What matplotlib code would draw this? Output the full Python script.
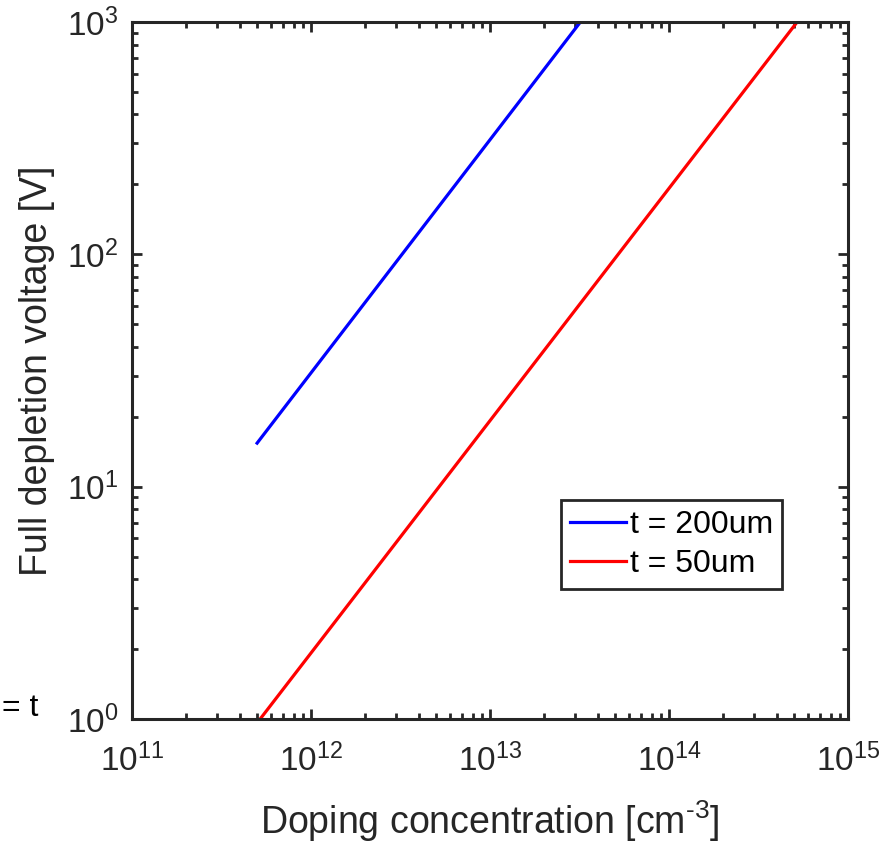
import matplotlib
matplotlib.use("Agg")
import matplotlib.pyplot as plt
from matplotlib.ticker import LogLocator, NullFormatter

plt.rcParams["font.family"] = ["Liberation Sans", "DejaVu Sans"]
plt.rcParams["mathtext.fontset"] = "custom"
plt.rcParams["mathtext.rm"] = "Liberation Sans"
plt.rcParams["mathtext.it"] = "Liberation Sans:italic"

# doping concentration [cm^-3] and full depletion voltage [V]
doping_200um = [5.0e11, 3.2e13]
voltage_200um = [15.4, 1000]
doping_50um = [5.2e11, 5.2e14]
voltage_50um = [1.0, 1000]
labels = ["t = 200um", "t = 50um"]

dark = "#262626"

fig = plt.figure(figsize=(8.93, 8.49), dpi=100)
ax = fig.add_axes([0.1478, 0.1531, 0.8018, 0.8210])

ax.plot(doping_200um, voltage_200um, color="#0000ff", lw=2.3, label=labels[0])
ax.plot(doping_50um, voltage_50um, color="#ff0000", lw=2.3, label=labels[1])

ax.set_xscale("log")
ax.set_yscale("log")
ax.set_xlim(1e11, 1e15)
ax.set_ylim(1e0, 1e3)

ax.xaxis.set_major_locator(LogLocator(base=10, numticks=10))
ax.yaxis.set_major_locator(LogLocator(base=10, numticks=10))
ax.xaxis.set_minor_locator(LogLocator(base=10, subs=range(2, 10), numticks=20))
ax.yaxis.set_minor_locator(LogLocator(base=10, subs=range(2, 10), numticks=20))
ax.xaxis.set_minor_formatter(NullFormatter())
ax.yaxis.set_minor_formatter(NullFormatter())

ax.tick_params(which="both", direction="in", top=True, right=True,
               colors=dark, width=2.0)
ax.tick_params(which="major", length=7, labelsize=24)
ax.tick_params(which="minor", length=4)
ax.tick_params(axis="x", which="major", pad=18)
ax.tick_params(axis="y", which="major", pad=10)
for s in ax.spines.values():
    s.set_linewidth(2.2)
    s.set_color(dark)

ax.set_xlabel(r"Doping concentration [cm$^{\text{-3}}$]", fontsize=27,
              color=dark, labelpad=14)
ax.set_ylabel("Full depletion voltage [V]", fontsize=27, color=dark,
              labelpad=8)

leg = ax.legend(loc="upper left", bbox_to_anchor=(0.599, 0.314), fontsize=23,
                fancybox=False, framealpha=1, handlelength=1.75,
                handletextpad=0.1, borderpad=0.3, labelspacing=0.3,
                borderaxespad=0)
leg.get_frame().set_edgecolor(dark)
leg.get_frame().set_linewidth(2.0)

fig.text(2 / 893, 1 - 708 / 849, "= t", fontsize=23, color="black",
         ha="left", va="center")

fig.savefig("out.png", dpi=100)
